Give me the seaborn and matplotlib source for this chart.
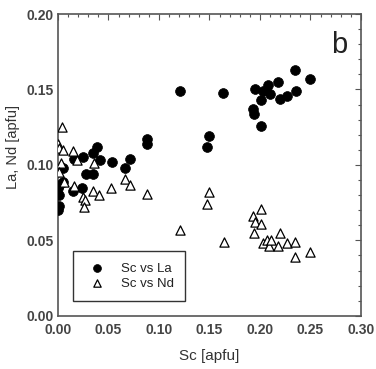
import matplotlib
matplotlib.use("Agg")
import matplotlib.pyplot as plt
import seaborn as sns
import pandas as pd
from matplotlib.ticker import MultipleLocator, FormatStrFormatter

sns.set_style("white")
plt.rcParams['font.family'] = ['Liberation Sans', 'DejaVu Sans']

sc_la = [0.000, 0.001, 0.001, 0.000, 0.001, 0.005, 0.005, 0.015, 0.016, 0.024,
         0.025, 0.028, 0.035, 0.035, 0.039, 0.042, 0.054, 0.066, 0.071, 0.088,
         0.088, 0.121, 0.148, 0.150, 0.163, 0.193, 0.194, 0.195, 0.201, 0.201,
         0.203, 0.208, 0.210, 0.218, 0.220, 0.227, 0.235, 0.236, 0.250]
la = [0.070, 0.073, 0.080, 0.085, 0.087, 0.089, 0.098, 0.083, 0.104, 0.085,
      0.1055, 0.094, 0.094, 0.108, 0.112, 0.103, 0.102, 0.098, 0.104, 0.117,
      0.114, 0.149, 0.112, 0.119, 0.148, 0.137, 0.134, 0.150, 0.143, 0.126,
      0.149, 0.153, 0.147, 0.155, 0.144, 0.146, 0.163, 0.149, 0.157]

sc_nd = [0.004, 0.000, 0.001, 0.005, 0.015, 0.019, 0.003, 0.036, 0.001, 0.066,
         0.006, 0.016, 0.025, 0.027, 0.026, 0.035, 0.041, 0.053, 0.071, 0.088,
         0.121, 0.150, 0.148, 0.164, 0.193, 0.195, 0.201, 0.201, 0.194, 0.203,
         0.207, 0.209, 0.211, 0.220, 0.218, 0.227, 0.235, 0.235, 0.250]
nd = [0.125, 0.114, 0.111, 0.110, 0.109, 0.103, 0.101, 0.101, 0.095, 0.091,
      0.089, 0.086, 0.079, 0.077, 0.072, 0.083, 0.080, 0.085, 0.087, 0.081,
      0.057, 0.082, 0.074, 0.049, 0.066, 0.062, 0.071, 0.061, 0.055, 0.048,
      0.050, 0.046, 0.050, 0.055, 0.046, 0.048, 0.049, 0.039, 0.042]

series_names = ["Sc vs La", "Sc vs Nd"]

df_la = pd.DataFrame({"Sc": sc_la, "val": la, "series": series_names[0]})
df_nd = pd.DataFrame({"Sc": sc_nd, "val": nd, "series": series_names[1]})

fig = plt.figure(figsize=(3.76, 3.69), dpi=100)
ax = fig.add_axes([0.154, 0.144, 0.806, 0.818])

sns.scatterplot(data=df_la, x="Sc", y="val", ax=ax, marker="o", s=50,
                color="black", edgecolor="black", linewidth=0.5,
                label=series_names[0], zorder=3)
sns.scatterplot(data=df_nd, x="Sc", y="val", ax=ax, marker="^", s=44,
                facecolor="white", edgecolor="black", linewidth=0.9,
                label=series_names[1], zorder=4)

ax.set_xlim(0, 0.30)
ax.set_ylim(0, 0.20)
ax.xaxis.set_major_locator(MultipleLocator(0.05))
ax.yaxis.set_major_locator(MultipleLocator(0.05))
ax.xaxis.set_minor_locator(MultipleLocator(0.01))
ax.yaxis.set_minor_locator(MultipleLocator(0.01))
ax.xaxis.set_major_formatter(FormatStrFormatter('%.2f'))
ax.yaxis.set_major_formatter(FormatStrFormatter('%.2f'))
ax.tick_params(which="both", direction="in", top=True, right=True,
               color="#555555", width=0.8)
ax.tick_params(which="major", length=4, labelsize=10, labelcolor="#444444")
ax.tick_params(axis="x", which="major", pad=5)
ax.tick_params(axis="y", which="major", pad=3)
ax.tick_params(which="minor", length=2)
for lbl in ax.get_xticklabels() + ax.get_yticklabels():
    lbl.set_fontweight("bold")
for sp in ax.spines.values():
    sp.set_color("#555555")
    sp.set_linewidth(1.2)

ax.set_xlabel("Sc [apfu]", fontsize=11, color="#333333", labelpad=9)
ax.set_ylabel("La, Nd [apfu]", fontsize=10.5, color="#333333", labelpad=3)
ax.yaxis.set_label_coords(-0.125, 0.56)

ax.text(0.955, 0.945, "b", transform=ax.transAxes, ha="right", va="top",
        fontsize=21, color="#222222")

leg = ax.legend(loc="lower left", bbox_to_anchor=(0.05, 0.05), frameon=True,
                fancybox=False, edgecolor="black", fontsize=9.5,
                borderaxespad=0, handlelength=1.9, handletextpad=0.9,
                borderpad=0.85, labelspacing=0.2, markerscale=0.8)
leg.get_frame().set_linewidth(1.0)
for t in leg.get_texts():
    t.set_color("#222222")

fig.savefig("out.png", dpi=100)
